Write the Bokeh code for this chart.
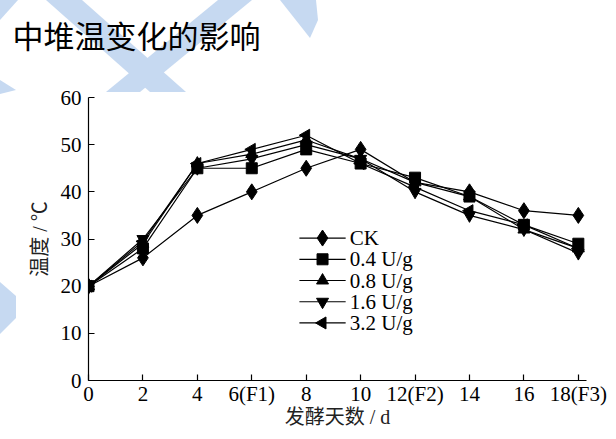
import base64
from bokeh.plotting import figure
from bokeh.models import FixedTicker, Range1d, Title
from bokeh.core.properties import value
from bokeh.embed import file_html
from bokeh.resources import INLINE

# ---- data ----
days = [0, 2, 4, 6, 8, 10, 12, 14, 16, 18]
tick_labels = ["0", "2", "4", "6(F1)", "8", "10", "12(F2)", "14", "16", "18(F3)"]
y_ticks = [0, 10, 20, 30, 40, 50, 60]

ck = [20, 26, 35, 40, 45, 49, 42, 40, 36, 35]
u04 = [20, 28, 45, 45, 49, 46, 43, 39, 33, 29]
u08 = [20, 29, 46, 48, 51, 47, 42, 39, 32, 28]
u16 = [20, 30, 45, 47, 50, 47, 40, 35, 32, 27]
u32 = [20, 29.5, 46, 49, 52, 46, 41, 36, 33, 28]

series_names = ["CK", "0.4 U/g", "0.8 U/g", "1.6 U/g", "3.2 U/g"]
series_values = [ck, u04, u08, u16, u32]

title_text = "中堆温变化的影响"
x_label = "发酵天数 / d"
y_label = "温度 / ℃"

# ---- styling ----
markers = [("diamond", 16, 0.0), ("square", 11, 0.0), ("triangle", 12, 0.0),
           ("inverted_triangle", 12, 0.0), ("triangle", 12, 1.5708)]
serif = "'Liberation Serif', 'Noto Sans CJK SC'"
W, H = 616, 439

# legend layout (in axis units)
leg_x0, leg_x1, leg_mx, leg_tx = 7.75, 9.45, 8.6, 9.6
leg_y = [30.2, 25.7, 21.2, 16.7, 12.2]

# decorative watermark stripes (page pixels), drawn as CSS background
stripes = [
    [(46, 0), (82, 0), (186, 92), (150, 92)],
    [(218, 0), (252, 0), (140, 92), (106, 92)],
    [(280, 0), (316, 0), (318, 20), (310, 38)],
    [(0, 0), (18, 0), (0, 20)],
    [(0, 80), (16, 90), (0, 94)],
    [(0, 282), (16, 296), (16, 318), (0, 334)],
]
polys = "".join('<polygon points="%s" fill="#c6d9f1"/>' % " ".join("%d,%d" % q for q in s)
                for s in stripes)
svg_bg = '<svg xmlns="http://www.w3.org/2000/svg" width="%d" height="%d">%s</svg>' % (W, H, polys)
bg_url = "url(data:image/svg+xml;base64,%s)" % base64.b64encode(svg_bg.encode()).decode()

p = figure(width=W, height=H, output_backend="svg", toolbar_location=None,
           x_range=Range1d(0, 18.3), y_range=Range1d(0, 60),
           min_border_left=88, min_border_right=30, min_border_top=97, min_border_bottom=59)
p.styles = {"background-image": bg_url, "background-repeat": "no-repeat",
            "background-color": "white"}
p.outline_line_color = None
p.grid.visible = False
p.background_fill_color = None
p.border_fill_color = None

for name, vals, (mk, sz, ang), ly in zip(series_names, series_values, markers, leg_y):
    p.line(days, vals, line_color="black", line_width=1.2)
    p.scatter(days, vals, marker=mk, size=sz, angle=ang,
              fill_color="black", line_color="black")
    # legend entry
    p.line([leg_x0, leg_x1], [ly, ly], line_color="black", line_width=1.2)
    p.scatter([leg_mx], [ly], marker=mk, size=sz, angle=ang,
              fill_color="black", line_color="black")
    p.text([leg_tx], [ly], text=[name], text_font=value(serif), text_font_size="21px",
           text_baseline="middle", text_align="left", text_color="black")

for ax in (p.xaxis, p.yaxis):
    ax.axis_line_color = "black"
    ax.axis_line_width = 1.2
    ax.major_tick_in = 6
    ax.major_tick_out = 0
    ax.major_tick_line_color = "black"
    ax.major_tick_line_width = 1.2
    ax.minor_tick_line_color = None
    ax.major_label_text_font = serif
    ax.major_label_text_font_size = "21px"
    ax.major_label_text_color = "black"
    ax.axis_label_text_font = serif
    ax.axis_label_text_font_size = "20px"
    ax.axis_label_text_font_style = "normal"
    ax.axis_label_text_color = "#222222"

p.xaxis.ticker = FixedTicker(ticks=days)
p.xaxis.major_label_overrides = {d: t for d, t in zip(days, tick_labels)}
p.xaxis.axis_label = x_label
p.xaxis.major_label_standoff = 1
p.xaxis.axis_label_standoff = -3

p.yaxis.ticker = FixedTicker(ticks=y_ticks)
p.yaxis.axis_label = y_label
p.yaxis.major_label_standoff = 7
p.yaxis.axis_label_standoff = 7

# spacer title (closest to the frame) then the real title above it
p.add_layout(Title(text=" ", text_font_size="2px", standoff=37), "above")
p.add_layout(Title(text=title_text, align="left", offset=-76, standoff=0,
                   text_font="'Noto Sans CJK SC'", text_font_size="31px",
                   text_font_style="normal", text_color="black"), "above")

open("out.html", "w").write(file_html(p, INLINE))
